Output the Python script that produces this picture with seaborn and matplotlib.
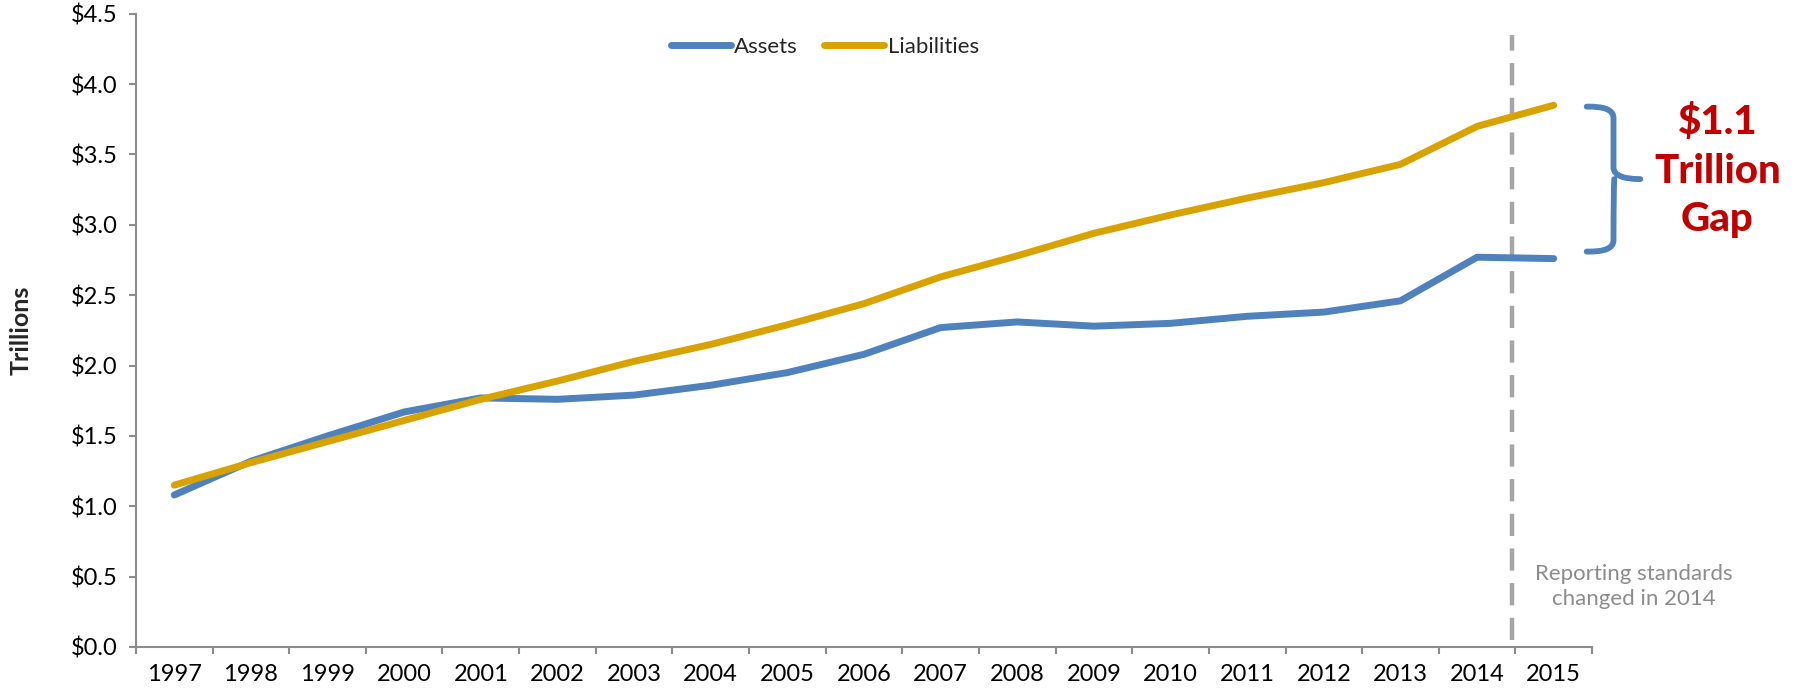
import matplotlib
matplotlib.use("Agg")
import matplotlib.pyplot as plt
from matplotlib.path import Path
from matplotlib.patches import PathPatch
from matplotlib.ticker import FixedLocator, FuncFormatter
import numpy as np
import pandas as pd
import seaborn as sns

# Pension fund totals, trillions of dollars
years = [1997, 1998, 1999, 2000, 2001, 2002, 2003, 2004, 2005, 2006,
         2007, 2008, 2009, 2010, 2011, 2012, 2013, 2014, 2015]
assets = [1.08, 1.32, 1.50, 1.67, 1.77, 1.76, 1.79, 1.86, 1.95, 2.08,
          2.27, 2.31, 2.28, 2.30, 2.35, 2.38, 2.46, 2.77, 2.76]
liabilities = [1.15, 1.31, 1.46, 1.61, 1.76, 1.89, 2.03, 2.15, 2.29, 2.44,
               2.63, 2.78, 2.94, 3.07, 3.19, 3.30, 3.43, 3.70, 3.85]
series_names = ["Assets", "Liabilities"]
series_colors = ["#4F81BD", "#D8A300"]
y_ticks = [0.0, 0.5, 1.0, 1.5, 2.0, 2.5, 3.0, 3.5, 4.0, 4.5]
gap_label = "$1.1\nTrillion\nGap"
note_label = "Reporting standards\nchanged in 2014"

sns.set_style("white")
plt.rcParams["font.family"] = ["Lato", "DejaVu Sans"]

idx = np.arange(len(years))
df = pd.DataFrame({
    "pos": np.concatenate([idx, idx]),
    "value": assets + liabilities,
    "series": [series_names[0]] * len(years) + [series_names[1]] * len(years),
})

fig = plt.figure(figsize=(18.03, 6.89), dpi=100)
ax = fig.add_axes([0.0754, 0.061, 0.8076, 0.919])

sns.lineplot(data=df, x="pos", y="value", hue="series",
             palette=dict(zip(series_names, series_colors)),
             linewidth=5, ax=ax, legend=True)
for ln in ax.lines:
    ln.set_solid_capstyle("round")
    ln.set_solid_joinstyle("round")

ax.set_xlim(-0.5, len(years) - 0.5)
ax.set_ylim(0, 4.5)

# category labels at centres, tick marks at boundaries
ax.xaxis.set_major_locator(FixedLocator(idx))
ax.set_xticklabels([str(y) for y in years])
ax.xaxis.set_minor_locator(FixedLocator(np.arange(-0.5, len(years), 1.0)))
ax.tick_params(axis="x", which="major", length=0, pad=12, labelsize=17,
               colors="black")
ax.tick_params(axis="x", which="minor", length=5, width=1.5,
               color="#8C8C8C", direction="out", bottom=True)

ax.set_yticks(y_ticks)
ax.yaxis.set_major_formatter(FuncFormatter(lambda v, _: f"${v:.1f}"))
ax.tick_params(axis="y", length=5, width=1.5, color="#8C8C8C",
               direction="out", left=True, pad=8, labelsize=17,
               labelcolor="black")

ax.set_xlabel("")
ax.set_ylabel("Trillions", fontsize=18, fontweight="bold", labelpad=28)

for side in ["top", "right"]:
    ax.spines[side].set_visible(False)
for side in ["left", "bottom"]:
    ax.spines[side].set_color("#8C8C8C")
    ax.spines[side].set_linewidth(1.5)

# reporting change marker
ax.axvline(17.45, ymin=0.011, ymax=0.967, color="#A6A6A6", lw=3.2,
           dashes=(5, 2.8), zorder=1)
ax.text(19.04, 0.43, note_label, ha="center", va="center",
        fontsize=16, color="#8C8C8C", linespacing=1.3, clip_on=False)

# brace spanning the funding gap
yt, yb = liabilities[-1] - 0.01, assets[-1] + 0.05
ym = (yt + yb) / 2
xa, xs, xt = 18.43, 18.78, 19.13
verts = [
    (xa, yt), (xs, yt + 0.005), (xs, yt - 0.08),
    (xs, ym + 0.08), (xs + 0.01, ym), (xt, ym),
    (xs + 0.01, ym), (xs, ym - 0.08),
    (xs, yb + 0.08), (xs, yb - 0.005), (xa, yb),
]
codes = [
    Path.MOVETO, Path.CURVE3, Path.CURVE3,
    Path.LINETO, Path.CURVE3, Path.CURVE3,
    Path.MOVETO, Path.CURVE3,
    Path.LINETO, Path.CURVE3, Path.CURVE3,
]
brace = PathPatch(Path(verts, codes), fill=False, edgecolor=series_colors[0],
                  lw=4.2, capstyle="round", joinstyle="round", clip_on=False)
ax.add_patch(brace)

fig.text(0.9525, 0.752, gap_label, ha="center", va="center", fontsize=29,
         fontweight="black", color="#C00000", linespacing=1.38)

leg = ax.legend(loc="center", bbox_to_anchor=(0.473, 0.948), ncol=2,
                frameon=False, fontsize=16, handlelength=2.7,
                handletextpad=0.15, columnspacing=1.2)
for h in leg.get_lines():
    h.set_linewidth(5)
    h.set_solid_capstyle("round")

fig.savefig("out.png", dpi=100)
